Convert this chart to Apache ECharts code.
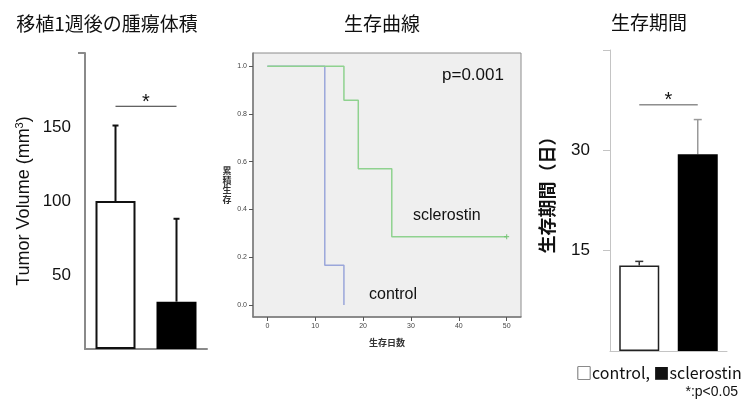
<!DOCTYPE html>
<html>
<head>
<meta charset="utf-8">
<script src="https://cdn.jsdelivr.net/npm/echarts@6/dist/echarts.min.js"></script>
<style>html,body{margin:0;padding:0;background:#fff}#c{width:742px;height:406px}</style>
</head>
<body>
<div id="c"></div>
<script>
// ---- data ----
var groups = ['control', 'sclerostin'];
var tumorMean = [100, 32];
var tumorUpper = [151, 88];
var tumorTicks = [50, 100, 150];
var tumorSig = 164;

var survDaysControl = [0, 12, 16];
var survRateControl = [1.0, 0.167, 0.0];
var survDaysScl = [0, 16, 19, 26, 50];
var survRateScl = [1.0, 0.857, 0.571, 0.286, 0.286];
var kmXTicks = [0, 10, 20, 30, 40, 50];
var kmYTicks = [0.0, 0.2, 0.4, 0.6, 0.8, 1.0];
var kmYName = ['累', '積', '生', '存'];

var periodMean = [12.8, 29.4];
var periodUpper = [13.4, 34.6];
var periodTicks = [15, 30];
var periodSig = 36.8;

var JP = '"Noto Sans CJK JP", "Noto Sans", sans-serif';
var AR = '"Liberation Sans", Arial, sans-serif';

function zip(a, b) { return a.map(function (v, i) { return [v, b[i]]; }); }

function errRender(color, width, cap) {
  return function (params, api) {
    var x = api.value(0), m = api.value(1), u = api.value(2);
    var p0 = api.coord([x, m]), p1 = api.coord([x, u]);
    return {
      type: 'group',
      children: [
        { type: 'line', shape: { x1: p0[0], y1: p0[1], x2: p1[0], y2: p1[1] }, style: { stroke: color, lineWidth: width } },
        { type: 'line', shape: { x1: p1[0] - cap / 2, y1: p1[1], x2: p1[0] + cap / 2, y2: p1[1] }, style: { stroke: color, lineWidth: width } }
      ]
    };
  };
}
function sigRender(color, width) {
  return function (params, api) {
    var y = api.value(2);
    var a = api.coord([api.value(0), y]), b = api.coord([api.value(1), y]);
    return {
      type: 'group',
      children: [
        { type: 'line', shape: { x1: a[0], y1: a[1], x2: b[0], y2: b[1] }, style: { stroke: color, lineWidth: width } },
        { type: 'text', style: { text: '*', x: (a[0] + b[0]) / 2, y: a[1] + 6, align: 'center', verticalAlign: 'bottom', font: '20px ' + AR, fill: '#111' } }
      ]
    };
  };
}

var graphics = [
  { type: 'text', left: 442, top: 67, style: { text: 'p=0.001', font: '17px ' + AR, fill: '#111' } },
  { type: 'text', left: 413, top: 208, style: { text: 'sclerostin', font: '16px ' + AR, fill: '#111' } },
  { type: 'text', left: 369, top: 287, style: { text: 'control', font: '16px ' + AR, fill: '#111' } },
  { type: 'text', left: 576, top: 365, style: { text: '□control, ■sclerostin', font: '16px ' + JP, fill: '#111' } },
  { type: 'text', right: 4, top: 385, style: { text: '*:p<0.05', font: '14px ' + AR, fill: '#111' } }
];
kmYName.forEach(function (ch, i) {
  graphics.push({ type: 'text', x: 227, y: 171 + i * 9.5, style: { text: ch, font: 'bold 9px ' + JP, fill: '#333', align: 'center', verticalAlign: 'middle' } });
});

var chart = echarts.init(document.getElementById('c'));
chart.setOption({
  animation: false,
  title: [
    { text: '移植1週後の腫瘍体積', left: 102, top: 9, textAlign: 'center', textStyle: { fontFamily: JP, fontSize: 19, fontWeight: 'normal', color: '#111' } },
    { text: '生存曲線', left: 377, top: 9, textAlign: 'center', textStyle: { fontFamily: JP, fontSize: 19, fontWeight: 'normal', color: '#111' } },
    { text: '生存期間', left: 644, top: 8, textAlign: 'center', textStyle: { fontFamily: JP, fontSize: 19, fontWeight: 'normal', color: '#111' } }
  ],
  grid: [
    { left: 85, top: 53, width: 122, height: 296 },
    { left: 253, top: 53, width: 268, height: 264, show: true, backgroundColor: '#efefef', borderColor: '#8c8c8c', borderWidth: 1 },
    { left: 610, top: 50, width: 117, height: 301 }
  ],
  xAxis: [
    { gridIndex: 0, type: 'category', data: groups, axisLine: { lineStyle: { color: '#8a8a8a', width: 2 } }, axisTick: { show: false }, axisLabel: { show: false } },
    { gridIndex: 1, type: 'value', min: -3, max: 53, splitLine: { show: false },
      axisLine: { onZero: false, lineStyle: { color: '#7a7a7a', width: 1.5 } },
      axisTick: { length: 4, customValues: kmXTicks, lineStyle: { color: '#555' } },
      axisLabel: { customValues: kmXTicks, fontSize: 7, color: '#444', margin: 6, fontFamily: AR },
      name: '生存日数', nameLocation: 'middle', nameGap: 21, nameTextStyle: { fontFamily: JP, fontSize: 9, fontWeight: 'bold', color: '#333' } },
    { gridIndex: 2, type: 'category', data: groups, axisLine: { lineStyle: { color: '#c4c4c4', width: 1 } }, axisTick: { show: false }, axisLabel: { show: false } }
  ],
  yAxis: [
    { gridIndex: 0, type: 'value', min: 0, max: 200, splitLine: { show: false },
      axisLine: { show: true, lineStyle: { color: '#8a8a8a', width: 2 } },
      axisTick: { show: true, length: 7, customValues: [200], lineStyle: { color: '#8a8a8a', width: 2 } },
      axisLabel: { customValues: tumorTicks, fontSize: 17, color: '#111', margin: 14, fontFamily: AR },
      name: 'Tumor Volume (mm{sup|3})', nameLocation: 'middle', nameGap: 50,
      nameTextStyle: { fontFamily: AR, fontSize: 18, color: '#111', rich: { sup: { fontSize: 11, verticalAlign: 'top', padding: [0, 0, 10, 0], fontFamily: AR, color: '#111' } } } },
    { gridIndex: 1, type: 'value', min: -0.05, max: 1.055, splitLine: { show: false },
      axisLine: { show: true, onZero: false, lineStyle: { color: '#7a7a7a', width: 1.5 } },
      axisTick: { show: true, length: 4, customValues: kmYTicks, lineStyle: { color: '#555' } },
      axisLabel: { customValues: kmYTicks, fontSize: 7, color: '#444', margin: 6, fontFamily: AR, formatter: function (v) { return v.toFixed(1); } } },
    { gridIndex: 2, type: 'value', min: 0, max: 45, splitLine: { show: false },
      axisLine: { show: true, lineStyle: { color: '#c4c4c4', width: 1 } },
      axisTick: { show: true, length: 7, customValues: [15, 30, 45], lineStyle: { color: '#c4c4c4' } },
      axisLabel: { customValues: periodTicks, fontSize: 17, color: '#111', margin: 20, fontFamily: AR },
      name: '生存期間（日）', nameLocation: 'middle', nameGap: 54,
      nameTextStyle: { fontFamily: JP, fontSize: 18, fontWeight: 'bold', color: '#111', padding: [0, 0, 0, 20] } }
  ],
  series: [
    { type: 'bar', xAxisIndex: 0, yAxisIndex: 0, barWidth: 40, z: 3,
      data: [
        { value: tumorMean[0], itemStyle: { color: '#fff', borderColor: '#111', borderWidth: 2 } },
        { value: tumorMean[1], itemStyle: { color: '#000', borderColor: '#000', borderWidth: 0 } }
      ] },
    { type: 'custom', xAxisIndex: 0, yAxisIndex: 0, z: 2, renderItem: errRender('#111', 2, 6),
      data: groups.map(function (g, i) { return [i, tumorMean[i], tumorUpper[i]]; }) },
    { type: 'custom', xAxisIndex: 0, yAxisIndex: 0, z: 2, renderItem: sigRender('#333', 1),
      data: [[0, 1, tumorSig]] },

    { type: 'line', xAxisIndex: 1, yAxisIndex: 1, step: 'end', showSymbol: false, symbol: 'none', z: 3,
      lineStyle: { color: '#9aa6da', width: 1.5 }, data: zip(survDaysControl, survRateControl) },
    { type: 'line', xAxisIndex: 1, yAxisIndex: 1, step: 'end', showSymbol: false, symbol: 'none', z: 4,
      lineStyle: { color: '#8fd28f', width: 1.5 }, data: zip(survDaysScl, survRateScl) },
    { type: 'scatter', xAxisIndex: 1, yAxisIndex: 1, z: 5, symbol: 'path://M0,3L6,3M3,0L3,6', symbolSize: 5,
      itemStyle: { color: 'none', borderColor: '#6cc06c', borderWidth: 1.2 },
      data: [[survDaysScl[survDaysScl.length - 1], survRateScl[survRateScl.length - 1]]] },

    { type: 'bar', xAxisIndex: 2, yAxisIndex: 2, barWidth: 40, z: 3,
      data: [
        { value: periodMean[0], itemStyle: { color: '#fff', borderColor: '#222', borderWidth: 1.5 } },
        { value: periodMean[1], itemStyle: { color: '#000', borderWidth: 0 } }
      ] },
    { type: 'custom', xAxisIndex: 2, yAxisIndex: 2, z: 2, renderItem: function (params, api) {
        var col = params.dataIndex === 0 ? '#333' : '#999';
        return errRender(col, 1.5, 8)(params, api);
      },
      data: groups.map(function (g, i) { return [i, periodMean[i], periodUpper[i]]; }) },
    { type: 'custom', xAxisIndex: 2, yAxisIndex: 2, z: 2, renderItem: sigRender('#555', 1),
      data: [[0, 1, periodSig]] }
  ],
  graphic: graphics
});
</script>
</body>
</html>
